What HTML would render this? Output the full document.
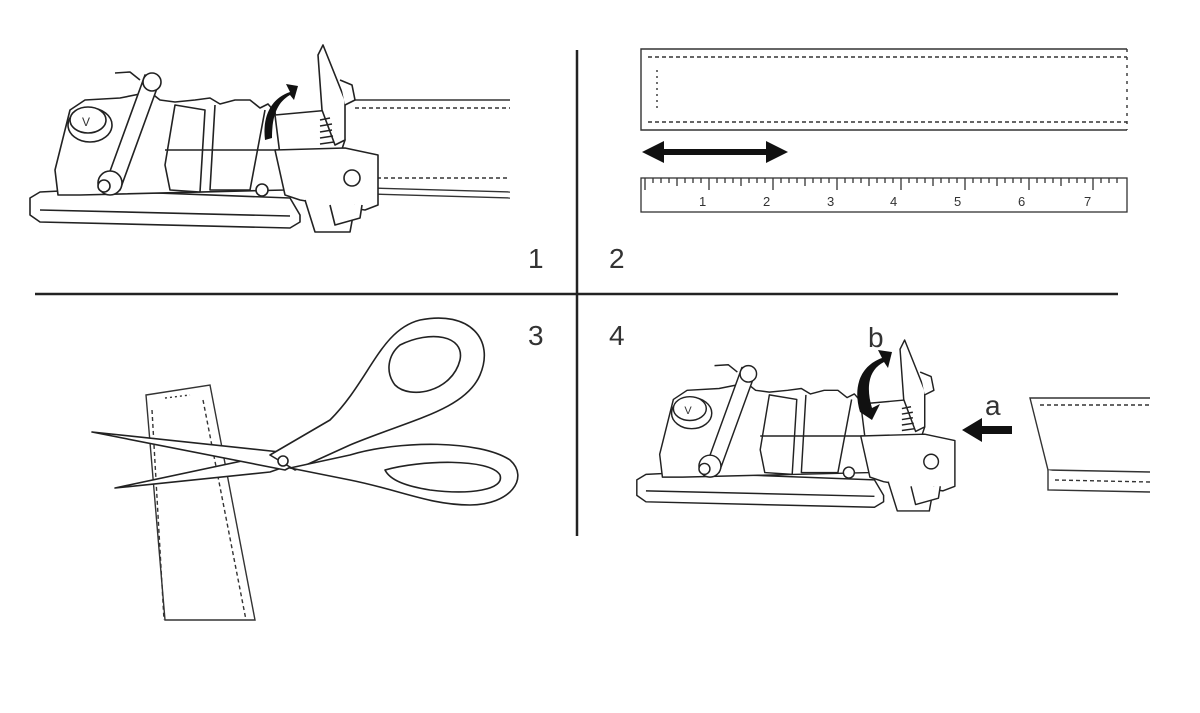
<!DOCTYPE html>
<html><head><meta charset="utf-8"><style>
html,body{margin:0;padding:0;background:#fff;}
svg{display:block}
text{font-family:"Liberation Sans",sans-serif;fill:#333;}
</style></head><body>
<svg width="1200" height="713" viewBox="0 0 1200 713" xmlns="http://www.w3.org/2000/svg">
<defs>
<g id="buckle" fill="#fff" stroke="#222" stroke-width="1.6" stroke-linejoin="round">
  <!-- base plate -->
  <path d="M30,198 L40,192 L80,190 L290,198 L300,215 L300,222 L290,228 L40,222 L30,215 Z"/>
  <path d="M40,210 L290,216"/>
  <!-- main body -->
  <path d="M55,170 L70,110 L85,100 L120,98 L150,92 L160,100 L175,102 L195,100 L210,98 L220,104 L235,100 L250,100 L260,108 L268,104 L275,112 L280,150 L285,190 L80,195 L58,195 Z"/>
  <!-- rollers -->
  <path d="M105,185 L145,75 L160,80 L120,190 Z"/>
  <circle cx="152" cy="82" r="9"/>
  <circle cx="110" cy="183" r="12"/>
  <circle cx="104" cy="186" r="6"/>
  <path d="M115,73 L130,72 L140,80"/>
  <!-- logo disc -->
  <ellipse cx="90" cy="125" rx="22" ry="17"/>
  <ellipse cx="88" cy="120" rx="18" ry="13"/>
  <text x="82" y="126" font-size="12" stroke="none">V</text>
  <!-- middle blocks -->
  <path d="M175,105 L165,165 L170,190 L200,192 L205,110 Z"/>
  <path d="M215,105 L210,190 L250,190 L265,110"/>
  <path d="M165,150 L280,150"/>
  <circle cx="262" cy="190" r="6"/>
  <!-- gate/cam section -->
  <path d="M275,115 L330,110 L345,140 L340,155 L280,155 Z"/>
  <path d="M275,150 L345,148 L378,155 L378,205 L365,210 L330,205 L300,200 L285,195 Z"/>
  <circle cx="352" cy="178" r="8"/>
  <path d="M305,200 L315,232 L350,232 L355,205"/>
  <path d="M330,205 L335,225 L360,218 L362,205"/>
  <!-- lever -->
  <path d="M318,55 L323,45 L345,100 L345,140 L335,145 L322,110 Z"/>
  <path d="M340,80 L352,85 L355,100 L345,105"/>
  <path d="M320,120 L330,118 M320,126 L332,124 M320,132 L332,130 M320,138 L333,136 M320,144 L334,142"/>
</g>
</defs>

<!-- divider lines -->
<line x1="577" y1="50" x2="577" y2="536" stroke="#222" stroke-width="2.5"/>
<line x1="35" y1="294" x2="1118" y2="294" stroke="#222" stroke-width="2.5"/>

<text x="528" y="268" font-size="28">1</text>
<text x="609" y="268" font-size="28">2</text>
<text x="528" y="345" font-size="28">3</text>
<text x="609" y="345" font-size="28">4</text>

<!-- panel 1 belt lines -->
<g stroke="#333" stroke-width="1.4" fill="none">
  <line x1="355" y1="100" x2="510" y2="100"/>
  <line x1="355" y1="108" x2="510" y2="108" stroke-dasharray="4,3"/>
  <line x1="370" y1="178" x2="510" y2="178" stroke-dasharray="4,3"/>
  <line x1="370" y1="188" x2="510" y2="192"/>
  <line x1="370" y1="194" x2="510" y2="198"/>
</g>
<use href="#buckle"/>
<path d="M265,140 C262,115 272,98 290,92 L286,84 L298,86 L294,100 L290,95 C276,103 272,118 272,138 Z" fill="#111"/>

<!-- panel 2 belt -->
<g stroke="#333" stroke-width="1.4" fill="none">
  <path d="M1127,49 L641,49 L641,130 L1127,130"/>
  <line x1="648" y1="57" x2="1127" y2="57" stroke-dasharray="4,3"/>
  <line x1="648" y1="122" x2="1127" y2="122" stroke-dasharray="4,3"/>
  <line x1="657" y1="70" x2="657" y2="110" stroke-dasharray="2,4"/>
  <line x1="1127" y1="49" x2="1127" y2="130" stroke-dasharray="3,5"/>
</g>
<!-- double arrow -->
<g fill="#111">
  <rect x="660" y="149" width="110" height="6"/>
  <polygon points="642,152 664,141 664,163"/>
  <polygon points="788,152 766,141 766,163"/>
</g>
<!-- ruler -->
<g stroke="#333" stroke-width="1.3" fill="none">
  <rect x="641" y="178" width="486" height="34"/>
  <path d="M645,178v12M653,178v5M661,178v5M669,178v5M677,178v8M685,178v5M693,178v5M701,178v5M709,178v12M717,178v5M725,178v5M733,178v5M741,178v8M749,178v5M757,178v5M765,178v5M773,178v12M781,178v5M789,178v5M797,178v5M805,178v8M813,178v5M821,178v5M829,178v5M837,178v12M845,178v5M853,178v5M861,178v5M869,178v8M877,178v5M885,178v5M893,178v5M901,178v12M909,178v5M917,178v5M925,178v5M933,178v8M941,178v5M949,178v5M957,178v5M965,178v12M973,178v5M981,178v5M989,178v5M997,178v8M1005,178v5M1013,178v5M1021,178v5M1029,178v12M1037,178v5M1045,178v5M1053,178v5M1061,178v8M1069,178v5M1077,178v5M1085,178v5M1093,178v12M1101,178v5M1109,178v5M1117,178v5"/>
</g>
<g font-size="13">
  <text x="699" y="206">1</text><text x="763" y="206">2</text><text x="827" y="206">3</text>
  <text x="890" y="206">4</text><text x="954" y="206">5</text><text x="1018" y="206">6</text><text x="1084" y="206">7</text>
</g>

<!-- panel 3 strip and scissors -->
<g stroke="#333" stroke-width="1.4" fill="#fff">
  <path d="M146,395 L210,385 L255,620 L165,620 Z"/>
  <line x1="152" y1="410" x2="164" y2="620" stroke-dasharray="4,3"/>
  <line x1="203" y1="400" x2="246" y2="620" stroke-dasharray="4,3"/>
  <line x1="165" y1="398" x2="190" y2="395" stroke-dasharray="2,3"/>
</g>
<g stroke="#222" stroke-width="1.6" fill="#fff" stroke-linejoin="round">
  <path d="M115,488 L270,455 L290,465 L270,472 Z"/>
  <path d="M92,432 L280,452 L300,462 L285,470 Z"/>
  <path d="M270,455 L330,420 C370,380 380,330 420,320 C470,310 495,340 480,375 C465,410 410,420 350,445 L295,470 Z"/>
  <path d="M400,345 C430,330 465,335 460,360 C452,392 410,400 395,385 C385,372 388,355 400,345 Z"/>
  <path d="M290,468 L350,455 C400,440 480,440 510,460 C530,478 510,505 470,505 C430,505 400,490 350,480 Z"/>
  <path d="M385,470 C420,460 490,458 500,475 C505,490 470,495 430,490 C405,486 390,480 385,470 Z"/>
  <circle cx="283" cy="461" r="5"/>
</g>

<!-- panel 4 -->
<g transform="translate(609.4,298.9) scale(0.914)">
  <use href="#buckle"/>
</g>
<path d="M860,412 C852,385 862,365 882,358 L878,350 L892,352 L888,368 L884,362 C868,370 866,388 872,408 L880,404 L872,420 Z" fill="#111"/>
<text x="868" y="347" font-size="28">b</text>
<text x="985" y="415" font-size="28">a</text>
<g fill="#111">
  <rect x="978" y="426" width="34" height="8"/>
  <polygon points="962,430 982,418 982,442"/>
</g>
<g stroke="#333" stroke-width="1.4" fill="#fff">
  <path d="M1150,398 L1030,398 L1048,470 L1150,472"/>
  <path d="M1048,470 L1048,490 L1150,492"/>
  <line x1="1040" y1="405" x2="1150" y2="405" stroke-dasharray="4,3"/>
  <line x1="1055" y1="480" x2="1150" y2="482" stroke-dasharray="4,3"/>
</g>
</svg>
</body></html>
